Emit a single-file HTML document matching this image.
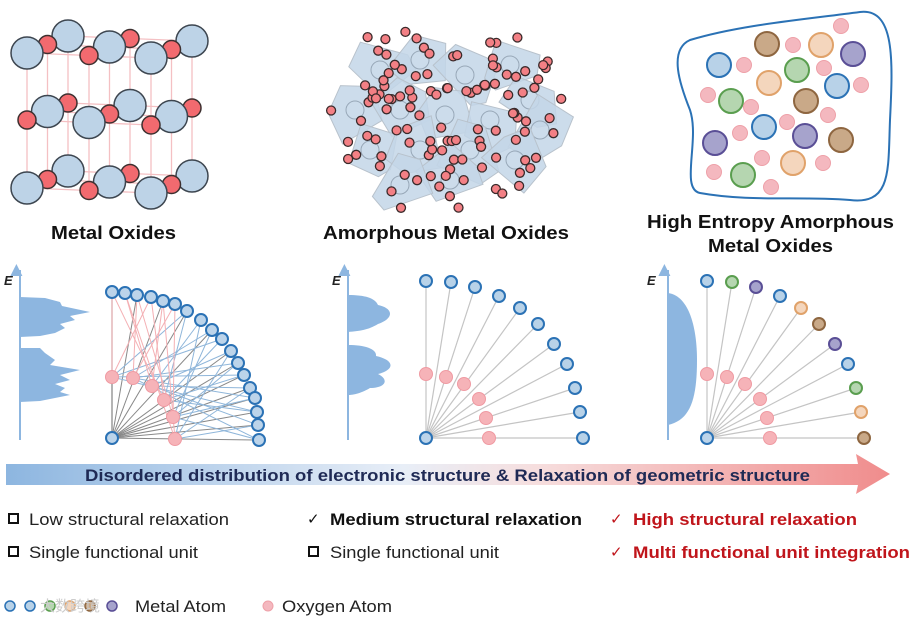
<!DOCTYPE html>
<html><head><meta charset="utf-8"><style>
body{margin:0;background:#fff;width:911px;height:618px;overflow:hidden}
svg{display:block}
text{font-family:"Liberation Sans",Arial,sans-serif}
</style></head><body>
<svg id="s" width="911" height="618" viewBox="0 0 911 618" xmlns="http://www.w3.org/2000/svg">
<defs>
<linearGradient id="ag" x1="0" x2="1" y1="0" y2="0">
<stop offset="0" stop-color="#8db6e0"/><stop offset="0.45" stop-color="#e8eef7"/><stop offset="0.6" stop-color="#f6dede"/><stop offset="1" stop-color="#f08c8c"/>
</linearGradient>
<marker id="ua" viewBox="0 0 10 10" refX="5" refY="8" markerWidth="6" markerHeight="6" orient="auto"><path d="M0,0 L10,5 L0,10 z" fill="#8db6e0"/></marker>
</defs>
<g id="lat"></g>
<g id="amo"></g>
<path d="M690,40 C740,25 800,20 860,12 C895,8 893,60 890,120 C888,170 892,205 850,200 C800,196 750,202 700,193 C680,189 700,140 690,110 C680,85 668,50 690,40 Z" fill="none" stroke="#2b72b5" stroke-width="2"/>
<g id="hea"></g>
<text x="51" y="239" font-size="18" font-weight="bold" fill="#111" textLength="125" lengthAdjust="spacingAndGlyphs">Metal Oxides</text>
<text x="323" y="239" font-size="18" font-weight="bold" fill="#111" textLength="246" lengthAdjust="spacingAndGlyphs">Amorphous Metal Oxides</text>
<text x="647" y="228" font-size="18" font-weight="bold" fill="#111" textLength="247" lengthAdjust="spacingAndGlyphs">High Entropy Amorphous</text>
<text x="708" y="252" font-size="18" font-weight="bold" fill="#111" textLength="125" lengthAdjust="spacingAndGlyphs">Metal Oxides</text>
<g id="pan"></g>
<path d="M20,297 L45,298 L60,302 L62,306 L90,312 L70,316 L75,320 L60,324 L65,328 L55,333 L40,336 L20,337 Z M20,348 L40,348 L45,353 L55,360 L50,365 L80,370 L60,375 L70,380 L55,384 L65,388 L60,392 L70,395 L55,398 L40,401 L20,402 Z" fill="#8db6e0"/>
<path d="M348,295 C365,295 375,298 378,305 C393,308 395,318 378,324 C368,330 360,331 348,332 Z M348,345 C365,345 377,349 376,356 C395,360 395,370 378,374 C390,380 385,388 370,388 C360,394 352,395 348,395 Z" fill="#8db6e0"/>
<path d="M668,293 C690,296 697,330 697,360 C697,400 690,420 668,425 Z" fill="#8db6e0"/>
<line x1="20" y1="440" x2="20" y2="270" stroke="#8db6e0" stroke-width="2" marker-end="url(#ua)"/>
<line x1="348" y1="440" x2="348" y2="270" stroke="#8db6e0" stroke-width="2" marker-end="url(#ua)"/>
<line x1="668" y1="440" x2="668" y2="270" stroke="#8db6e0" stroke-width="2" marker-end="url(#ua)"/>
<text x="4" y="285" font-size="13" font-weight="bold" font-style="italic" fill="#222">E</text>
<text x="332" y="285" font-size="13" font-weight="bold" font-style="italic" fill="#222">E</text>
<text x="647" y="285" font-size="13" font-weight="bold" font-style="italic" fill="#222">E</text>
<path d="M6,464 L858,464 L856,454 L890,474 L856,494 L858,485 L6,485 Z" fill="url(#ag)"/>
<text x="85" y="481" font-size="17" font-weight="bold" fill="#1f2a55" textLength="725" lengthAdjust="spacingAndGlyphs">Disordered distribution  of electronic structure &amp; Relaxation of geometric structure</text>
<rect x="9" y="514" width="9" height="9" fill="none" stroke="#111" stroke-width="2"/>
<text x="29" y="525" font-size="16.5" fill="#222" textLength="200" lengthAdjust="spacingAndGlyphs">Low structural relaxation</text>
<rect x="9" y="547" width="9" height="9" fill="none" stroke="#111" stroke-width="2"/>
<text x="29" y="558" font-size="16.5" fill="#222" textLength="169" lengthAdjust="spacingAndGlyphs">Single functional unit</text>
<text x="307" y="524" font-size="15" fill="#111">✓</text>
<text x="330" y="525" font-size="16.5" font-weight="bold" fill="#111" textLength="252" lengthAdjust="spacingAndGlyphs">Medium structural relaxation</text>
<rect x="309" y="547" width="9" height="9" fill="none" stroke="#111" stroke-width="2"/>
<text x="330" y="558" font-size="16.5" fill="#222" textLength="169" lengthAdjust="spacingAndGlyphs">Single functional unit</text>
<text x="610" y="524" font-size="15" fill="#c0151b">✓</text>
<text x="633" y="525" font-size="16.5" font-weight="bold" fill="#c0151b" textLength="224" lengthAdjust="spacingAndGlyphs">High structural relaxation</text>
<text x="610" y="557" font-size="15" fill="#c0151b">✓</text>
<text x="633" y="558" font-size="16.5" font-weight="bold" fill="#c0151b" textLength="277" lengthAdjust="spacingAndGlyphs">Multi functional unit integration</text>
<g id="leg"></g>
<text x="135" y="612" font-size="16.5" fill="#222" textLength="91" lengthAdjust="spacingAndGlyphs">Metal Atom</text>
<circle cx="268" cy="606" r="5" fill="#f4b8bf" stroke="#eea0a8"/>
<text x="282" y="612" font-size="16.5" fill="#222" textLength="110" lengthAdjust="spacingAndGlyphs">Oxygen Atom</text>
<text x="40" y="611" font-size="15" fill="#ccc" font-family="Noto Sans CJK SC,sans-serif">大数跨境</text>
</svg>
<script>
var NS="http://www.w3.org/2000/svg";
function el(g,t,a){var e=document.createElementNS(NS,t);for(var k in a)e.setAttribute(k,a[k]);document.getElementById(g).appendChild(e);return e;}
var atoms=[];
var fx=[27,89,151],fy=[53,120,188];
for(var d=0;d<3;d++)for(var r=0;r<3;r++)for(var c=0;c<3;c++){
 var x=fx[c]+d*20.5, y=fy[r]-d*8.5+c*2.5;
 atoms.push({x:x,y:y,big:((d+r+c)%2==0),d:d,i:d*9+r*3+c});
}
for(var i=0;i<27;i++)for(var j=i+1;j<27;j++){
 var a=atoms[i],b=atoms[j];
 if((j-i==1&&i%3!=2)||(j-i==3&&Math.floor(i/3)%3!=2)||(j-i==9)) el("lat","line",{x1:a.x,y1:a.y,x2:b.x,y2:b.y,stroke:"#f4c0c3","stroke-width":1.3});
}
atoms.sort(function(a,b){return b.d-a.d});
atoms.forEach(function(a){ if(a.big) el("lat","circle",{cx:a.x,cy:a.y,r:16,fill:"#bdd3e7",stroke:"#3d4650","stroke-width":1.5}); else el("lat","circle",{cx:a.x,cy:a.y,r:9,fill:"#f26a6f",stroke:"#3d3030","stroke-width":1.5});});
var seed=7;function rnd(){seed=(seed*16807)%2147483647;return seed/2147483647;}
var cen=[[380,70],[420,60],[465,75],[510,65],[530,100],[355,110],[400,110],[445,115],[490,120],[540,130],[370,150],[420,150],[470,150],[515,160],[450,180],[400,185]];
cen.forEach(function(c){var n=5,pts=[];for(var k=0;k<n;k++){var an=k/n*6.283+rnd();var rr=25+rnd()*12;pts.push((c[0]+rr*Math.cos(an)).toFixed(1)+","+(c[1]+rr*Math.sin(an)).toFixed(1));}
 el("amo","polygon",{points:pts.join(" "),fill:"#c3d6e8","fill-opacity":0.85,stroke:"#b8c2cc","stroke-width":1});
 el("amo","circle",{cx:c[0],cy:c[1],r:9,fill:"none",stroke:"#98a8b8","stroke-width":1});
});
for(var k=0;k<115;k++){var c=cen[k%cen.length];var an=rnd()*6.283,rr=10+rnd()*28;var x=c[0]+rr*Math.cos(an),y=c[1]+rr*Math.sin(an);
 if(y<15||y>208||x<325||x>565)continue; el("amo","circle",{cx:x.toFixed(1),cy:y.toFixed(1),r:4.5,fill:"#f38085",stroke:"#3a2a2a","stroke-width":1.3});}
var C={b:["#b8d2e8","#2b72b5"],g:["#b5d6b0","#5a9e4f"],p:["#a6a3cc","#5a4f96"],r:["#c9a988","#8e6640"],e:["#f4d6bd","#e0a26a"],k:["#f4b8bf","#eea0a8"]};
[[767,44,"r"],[821,45,"e"],[853,54,"p"],[719,65,"b"],[797,70,"g"],[769,83,"e"],[837,86,"b"],[731,101,"g"],[806,101,"r"],[764,127,"b"],[805,136,"p"],[841,140,"r"],[715,143,"p"],[793,163,"e"],[743,175,"g"]].forEach(function(a){el("hea","circle",{cx:a[0],cy:a[1],r:12,fill:C[a[2]][0],stroke:C[a[2]][1],"stroke-width":2});});
[[841,26],[793,45],[744,65],[824,68],[861,85],[708,95],[751,107],[828,115],[787,122],[740,133],[762,158],[823,163],[714,172],[771,187]].forEach(function(a){el("hea","circle",{cx:a[0],cy:a[1],r:7.5,fill:"#f4b8bf",stroke:"#eea0a8","stroke-width":1});});
var O1=[112,438],M1=[[112,292],[125,293],[137,295],[151,297],[163,301],[175,304],[187,311],[201,320],[212,330],[222,339],[231,351],[238,363],[244,375],[250,388],[255,398],[257,412],[258,425],[259,440]],R1=[[112,377],[133,378],[152,386],[164,400],[173,417],[175,439]];
el("pan","line",{x1:112,y1:438,x2:112,y2:292,stroke:"#999","stroke-width":1.3});
M1.forEach(function(m,i){if(i%2==0||i>9)el("pan","line",{x1:O1[0],y1:O1[1],x2:m[0],y2:m[1],stroke:"#888","stroke-width":1});});
R1.forEach(function(r,i){for(var j=0;j<M1.length;j++){if((j+i)%3==0){el("pan","line",{x1:r[0],y1:r[1],x2:M1[j][0],y2:M1[j][1],stroke:(j<6?"#f4b0b4":"#8fb6da"),"stroke-width":1});}}});
R1.forEach(function(r){el("pan","circle",{cx:r[0],cy:r[1],r:6.5,fill:"#f6b3b8",stroke:"#ef9aa2","stroke-width":1});});
M1.forEach(function(m){el("pan","circle",{cx:m[0],cy:m[1],r:6,fill:"#bcd4ea",stroke:"#2b72b5","stroke-width":2});});
el("pan","circle",{cx:112,cy:438,r:6,fill:"#bcd4ea",stroke:"#2b72b5","stroke-width":2});
function pan(ox,cols){var M=[[0,281],[25,282],[49,287],[73,296],[94,308],[112,324],[128,344],[141,364],[149,388],[154,412],[157,438]],R=[[0,374],[20,377],[38,384],[53,399],[60,418],[63,438]];
 M.forEach(function(m){el("pan","line",{x1:ox,y1:438,x2:ox+m[0],y2:m[1],stroke:"#c4c4c4","stroke-width":1.2});});
 R.forEach(function(r){el("pan","circle",{cx:ox+r[0],cy:r[1],r:6.5,fill:"#f6b3b8",stroke:"#ef9aa2","stroke-width":1});});
 M.forEach(function(m,i){var c=C[cols[i]];el("pan","circle",{cx:ox+m[0],cy:m[1],r:6,fill:c[0],stroke:c[1],"stroke-width":2});});
 el("pan","circle",{cx:ox,cy:438,r:6,fill:"#bcd4ea",stroke:"#2b72b5","stroke-width":2});}
pan(426,"bbbbbbbbbbb");pan(707,"bgpberpbger");
[["b",10],["b",30],["g",50],["e",70],["r",90],["p",112]].forEach(function(a){var c=C[a[0]];el("leg","circle",{cx:a[1],cy:606,r:5,fill:c[0],stroke:c[1],"stroke-width":1.5});});
</script>
</body></html>
